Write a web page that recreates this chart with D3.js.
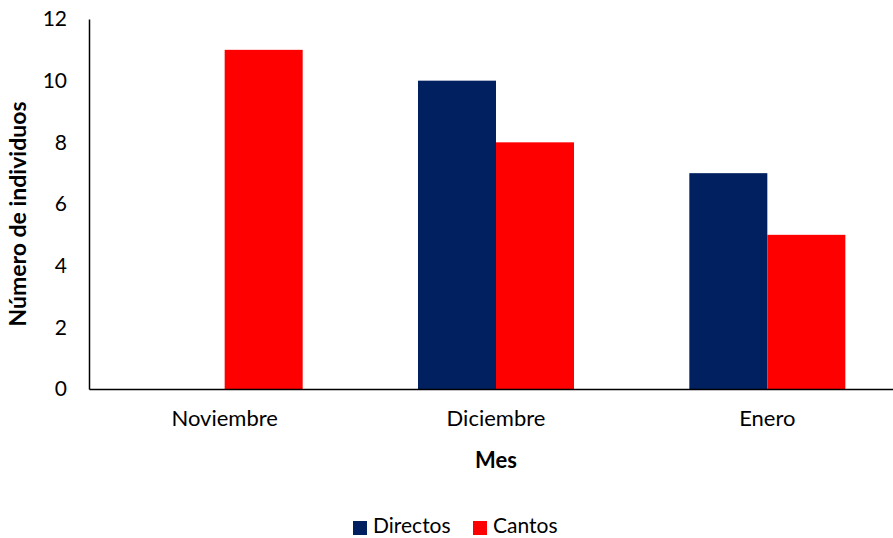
<!DOCTYPE html>
<html>
<head>
<meta charset="utf-8">
<script src="https://cdn.jsdelivr.net/npm/d3@7"></script>
<style>
  body { margin: 0; background: #fff; }
  svg text { font-family: Lato, "Open Sans", sans-serif; fill: #000; }
</style>
</head>
<body>
<svg id="chart" width="893" height="538"></svg>
<script>
const months = ["Noviembre", "Diciembre", "Enero"]
const series = ["Directos", "Cantos"]
const directos = [0, 10, 7]
const cantos = [11, 8, 5]
const yTicks = [0, 2, 4, 6, 8, 10, 12]
const colors = { Directos: "#002060", Cantos: "#ff0000" }

const data = months.map((m, i) => ({ month: m, Directos: directos[i], Cantos: cantos[i] }))

const svg = d3.select("#chart")
const margin = { left: 89, top: 19, right: -10, bottom: 149 }
const w = 893, h = 538

const x = d3.scaleBand()
  .domain(months)
  .range([margin.left, w - margin.right])
  .paddingInner(0.425)
  .paddingOuter(0.2125)

const xSub = d3.scaleBand()
  .domain(series)
  .range([0, x.bandwidth()])

const y = d3.scaleLinear()
  .domain([0, 12])
  .range([h - margin.bottom, margin.top])

// bars
const groups = svg.append("g")
  .selectAll("g")
  .data(data)
  .join("g")
  .attr("transform", d => `translate(${x(d.month)},0)`)

groups.selectAll("rect")
  .data(d => series.map(s => ({ key: s, value: d[s] })))
  .join("rect")
  .attr("x", d => xSub(d.key))
  .attr("width", xSub.bandwidth())
  .attr("y", d => y(d.value))
  .attr("height", d => y(0) - y(d.value))
  .attr("fill", d => colors[d.key])

// y axis
const yAxis = svg.append("g")
  .attr("transform", `translate(${margin.left},0)`)
  .call(d3.axisLeft(y).tickValues(yTicks).tickSize(0).tickPadding(22))
yAxis.select(".domain").attr("stroke", "#000").attr("stroke-width", 1.5)
yAxis.selectAll("text").style("font-size", "21px")

// x axis
const xAxis = svg.append("g")
  .attr("transform", `translate(0,${y(0)})`)
  .call(d3.axisBottom(x).tickSize(0).tickPadding(21))
xAxis.select(".domain").attr("stroke", "#000").attr("stroke-width", 1.5)
xAxis.selectAll("text").style("font-size", "22px")

// axis titles
svg.append("text")
  .attr("x", 496)
  .attr("y", 462)
  .attr("text-anchor", "middle")
  .attr("dominant-baseline", "middle")
  .style("font-size", "22px")
  .style("font-weight", "bold")
  .text("Mes")

svg.append("text")
  .attr("transform", `translate(20,${(y(0) + y(12)) / 2 + 10}) rotate(-90)`)
  .attr("text-anchor", "middle")
  .attr("dominant-baseline", "middle")
  .style("font-size", "23px")
  .style("font-weight", "bold")
  .text("Número de individuos")

// legend
const legend = svg.append("g").attr("transform", "translate(353,528)")
const legendX = [0, 120]
series.forEach((s, i) => {
  legend.append("rect")
    .attr("x", legendX[i])
    .attr("y", -7)
    .attr("width", 14)
    .attr("height", 14)
    .attr("fill", colors[s])
  legend.append("text")
    .attr("x", legendX[i] + 20)
    .attr("y", 0)
    .attr("dominant-baseline", "middle")
    .style("font-size", "21px")
    .text(s)
})
</script>
</body>
</html>
